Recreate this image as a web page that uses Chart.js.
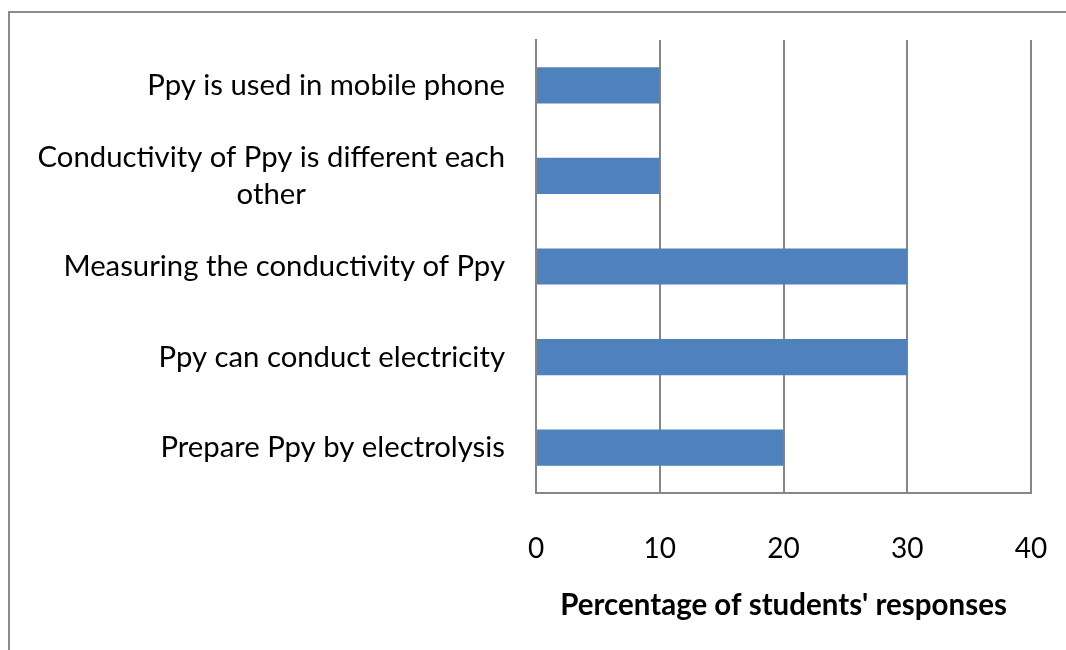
<!DOCTYPE html>
<html>
<head>
<meta charset="utf-8">
<script src="https://cdn.jsdelivr.net/npm/chart.js@4"></script>
<style>
  html, body { margin: 0; padding: 0; background: #fff; }
  #wrap { position: relative; width: 1066px; height: 650px; }
  #frame { position: absolute; left: 8px; top: 11px; right: 0; bottom: 0;
           border-left: 2px solid #8c8c8c; border-top: 2px solid #8c8c8c; }
  canvas { position: absolute; left: 0; top: 0; }
</style>
</head>
<body>
<div id="wrap">
  <div id="frame"></div>
  <canvas id="chart" width="1066" height="650"></canvas>
</div>
<script>
const categories = [
    'Ppy is used in mobile phone',
    ['Conductivity of Ppy is different each', 'other'],
    'Measuring the conductivity of Ppy',
    'Ppy can conduct electricity',
    'Prepare Ppy by electrolysis'
];
const responses = [10, 10, 30, 30, 20];
const xTicks = [0, 10, 20, 30, 40];

const FONT = "Lato, 'Open Sans', sans-serif";
const gridColor = '#868686';

// y labels: right aligned block, lines centered within the block
const yLabelPlugin = {
    id: 'yLabels',
    afterDraw(chart) {
        const ctx = chart.ctx;
        const y = chart.scales.y;
        ctx.save();
        ctx.font = '29.3px ' + FONT;
        ctx.fillStyle = '#000';
        ctx.textBaseline = 'middle';
        ctx.textAlign = 'center';
        const right = y.right - 31;
        chart.data.labels.forEach((lab, i) => {
            const lines = Array.isArray(lab) ? lab : [lab];
            const w = Math.max(...lines.map(l => ctx.measureText(l).width));
            const cy = y.getPixelForTick(i);
            const lh = 37;
            lines.forEach((l, j) => {
                ctx.fillText(l, right - w / 2, cy + (j - (lines.length - 1) / 2) * lh);
            });
        });
        ctx.restore();
    }
};

new Chart(document.getElementById('chart'), {
    type: 'bar',
    data: {
        labels: categories,
        datasets: [{
            data: responses,
            backgroundColor: '#4F81BD',
            barPercentage: 0.4,
            categoryPercentage: 1
        }]
    },
    options: {
        indexAxis: 'y',
        responsive: false,
        animation: false,
        layout: { padding: { top: 40, right: 35, left: 0, bottom: 0 } },
        plugins: { legend: { display: false }, tooltip: { enabled: false } },
        scales: {
            x: {
                min: 0,
                max: 40,
                afterBuildTicks: s => { s.ticks = xTicks.map(v => ({ value: v })); },
                afterFit: s => { s.height = 157; s.paddingLeft = 0; s.paddingRight = 0; },
                grid: { color: gridColor, lineWidth: 2, drawTicks: false },
                border: { color: gridColor, width: 2 },
                ticks: { color: '#000', padding: 39, font: { family: FONT, size: 28 } },
                title: {
                    display: true,
                    text: "Percentage of students' responses",
                    color: '#000',
                    font: { family: FONT, size: 29.5, weight: 'bold' },
                    padding: { top: 0, bottom: 27 }
                }
            },
            y: {
                afterFit: s => { s.width = 536; },
                grid: { display: false },
                border: { color: gridColor, width: 2 },
                ticks: { display: false }
            }
        }
    },
    plugins: [yLabelPlugin]
});
</script>
</body>
</html>
